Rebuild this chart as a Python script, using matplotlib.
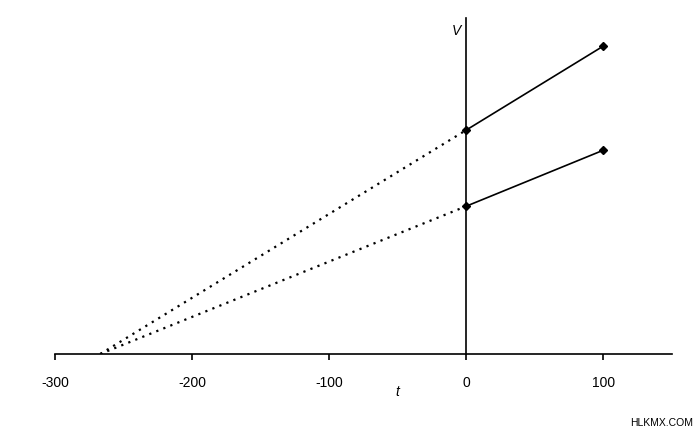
import matplotlib
matplotlib.use("Agg")
import matplotlib.pyplot as plt

plt.rcParams['font.family'] = ['Liberation Sans', 'DejaVu Sans']

# temperature (t) and volume (V) for two gas samples
t_meas = [0, 100]
v_upper = [2.0, 2.75]
v_lower = [1.32, 1.82]
t_abs_zero = -267
xticks = [-300, -200, -100, 0, 100]

fig = plt.figure(figsize=(7, 4.3), dpi=100)
ax = fig.add_axes([55 / 700, (430 - 354) / 430, (672 - 55) / 700, (354 - 18) / 430])

for v in (v_upper, v_lower):
    # extrapolation back to absolute zero
    ax.plot([t_abs_zero, t_meas[0]], [0, v[0]], color='black', lw=1.6,
            linestyle=(0, (1, 2.4)))
    ax.plot(t_meas, v, color='black', lw=1.2, marker='D', markersize=4)

ax.set_xlim(-300, 150)
ax.set_ylim(0, 3)

ax.spines['top'].set_visible(False)
ax.spines['right'].set_visible(False)
ax.spines['left'].set_position(('data', 0))
ax.spines['left'].set_linewidth(1.2)
ax.spines['bottom'].set_linewidth(1.2)
ax.set_yticks([])
ax.set_xticks(xticks)
ax.set_xticklabels([str(x) for x in xticks])
ax.tick_params(axis='x', direction='out', length=4, width=1.2, pad=12, labelsize=10)

ax.text(-4, 2.88, 'V', ha='right', va='center', fontsize=10, style='italic')
fig.text(397 / 700, 1 - 392 / 430, 't', ha='center', va='center', fontsize=10, style='italic')
fig.text(693 / 700, 1 - 423 / 430, 'HLKMX.COM', ha='right', va='center', fontsize=7.5)

fig.savefig('out.png', dpi=100)
